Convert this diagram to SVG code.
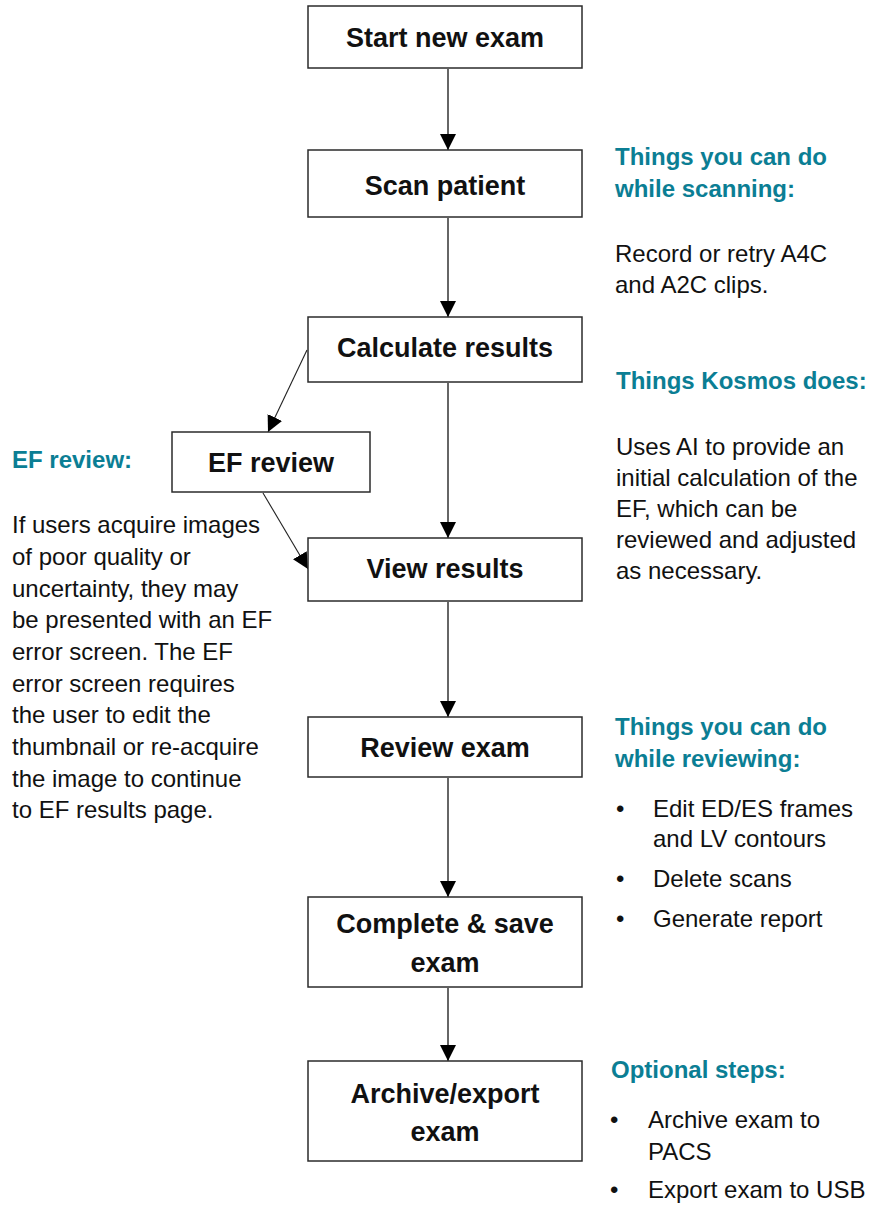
<svg xmlns="http://www.w3.org/2000/svg" width="874" height="1205" viewBox="0 0 874 1205">
<defs>
<style>
.box{fill:#fff;stroke:#2b2b2b;stroke-width:1.5}
.lbl{font-family:"Liberation Sans",Arial,sans-serif;font-weight:bold;font-size:27px;fill:#111;text-anchor:middle}
.hd{font-family:"Liberation Sans",Arial,sans-serif;font-weight:bold;font-size:24px;fill:#0b7e94}
.bd{font-family:"Liberation Sans",Arial,sans-serif;font-size:24px;fill:#111}
.ln{fill:none;stroke:#333;stroke-width:1.5}
.dg{fill:none;stroke:#222;stroke-width:1.1}
</style>
<marker id="ah" markerUnits="userSpaceOnUse" markerWidth="17" markerHeight="17" viewBox="0 0 17 17" refX="16" refY="8.5" orient="auto">
<path d="M0,0.5 L16,8.5 L0,16.5 z" fill="#000"/>
</marker>
</defs>
<rect width="874" height="1205" fill="#fff"/>

<g id="connectors">
<line class="ln" x1="448" y1="69" x2="448" y2="150" marker-end="url(#ah)"/>
<line class="ln" x1="448" y1="218" x2="448" y2="317" marker-end="url(#ah)"/>
<line class="ln" x1="448" y1="383" x2="448" y2="538" marker-end="url(#ah)"/>
<line class="ln" x1="448" y1="602" x2="448" y2="717" marker-end="url(#ah)"/>
<line class="ln" x1="448" y1="778" x2="448" y2="897" marker-end="url(#ah)"/>
<line class="ln" x1="448" y1="988" x2="448" y2="1061" marker-end="url(#ah)"/>
<line class="dg" x1="307" y1="350" x2="268" y2="432" marker-end="url(#ah)"/>
<line class="dg" x1="263" y1="493" x2="308" y2="569" marker-end="url(#ah)"/>
</g>

<g id="start">
<rect class="box" x="308" y="6" width="274" height="62"/>
<text class="lbl" x="445" y="47">Start new exam</text>
</g>
<g id="scan">
<rect class="box" x="308" y="150" width="274" height="67"/>
<text class="lbl" x="445" y="195">Scan patient</text>
</g>
<g id="calculate">
<rect class="box" x="308" y="317" width="274" height="65"/>
<text class="lbl" x="445" y="357">Calculate results</text>
</g>
<g id="efreview">
<rect class="box" x="172" y="432" width="198" height="60"/>
<text class="lbl" x="271" y="472">EF review</text>
</g>
<g id="view">
<rect class="box" x="308" y="538" width="274" height="63"/>
<text class="lbl" x="445" y="578">View results</text>
</g>
<g id="review">
<rect class="box" x="308" y="717" width="274" height="60"/>
<text class="lbl" x="445" y="757">Review exam</text>
</g>
<g id="complete">
<rect class="box" x="308" y="897" width="274" height="90"/>
<text class="lbl" x="445" y="933">Complete &amp; save</text>
<text class="lbl" x="445" y="972">exam</text>
</g>
<g id="archive">
<rect class="box" x="308" y="1061" width="274" height="100"/>
<text class="lbl" x="445" y="1103">Archive/export</text>
<text class="lbl" x="445" y="1141">exam</text>
</g>

<g id="note-scanning">
<text class="hd" x="615" y="165">Things you can do</text>
<text class="hd" x="615" y="197">while scanning:</text>
<text class="bd" x="615" y="262">Record or retry A4C</text>
<text class="bd" x="615" y="293">and A2C clips.</text>
</g>
<g id="note-kosmos">
<text class="hd" x="616" y="389">Things Kosmos does:</text>
<text class="bd" x="616" y="455">Uses AI to provide an</text>
<text class="bd" x="616" y="486">initial calculation of the</text>
<text class="bd" x="616" y="517">EF, which can be</text>
<text class="bd" x="616" y="548">reviewed and adjusted</text>
<text class="bd" x="616" y="579">as necessary.</text>
</g>
<g id="note-ef">
<text class="hd" x="12" y="468">EF review:</text>
<text class="bd" x="12" y="533">If users acquire images</text>
<text class="bd" x="12" y="565">of poor quality or</text>
<text class="bd" x="12" y="597">uncertainty, they may</text>
<text class="bd" x="12" y="628">be presented with an EF</text>
<text class="bd" x="12" y="660">error screen. The EF</text>
<text class="bd" x="12" y="692">error screen requires</text>
<text class="bd" x="12" y="723">the user to edit the</text>
<text class="bd" x="12" y="755">thumbnail or re-acquire</text>
<text class="bd" x="12" y="787">the image to continue</text>
<text class="bd" x="12" y="818">to EF results page.</text>
</g>
<g id="note-reviewing">
<text class="hd" x="615" y="735">Things you can do</text>
<text class="hd" x="615" y="767">while reviewing:</text>
<text class="bd" x="616" y="817">•</text>
<text class="bd" x="653" y="817">Edit ED/ES frames</text>
<text class="bd" x="653" y="847">and LV contours</text>
<text class="bd" x="616" y="887">•</text>
<text class="bd" x="653" y="887">Delete scans</text>
<text class="bd" x="616" y="927">•</text>
<text class="bd" x="653" y="927">Generate report</text>
</g>
<g id="note-optional">
<text class="hd" x="611" y="1078">Optional steps:</text>
<text class="bd" x="610" y="1128">•</text>
<text class="bd" x="648" y="1128">Archive exam to</text>
<text class="bd" x="648" y="1160">PACS</text>
<text class="bd" x="610" y="1198">•</text>
<text class="bd" x="648" y="1198">Export exam to USB</text>
</g>
</svg>
